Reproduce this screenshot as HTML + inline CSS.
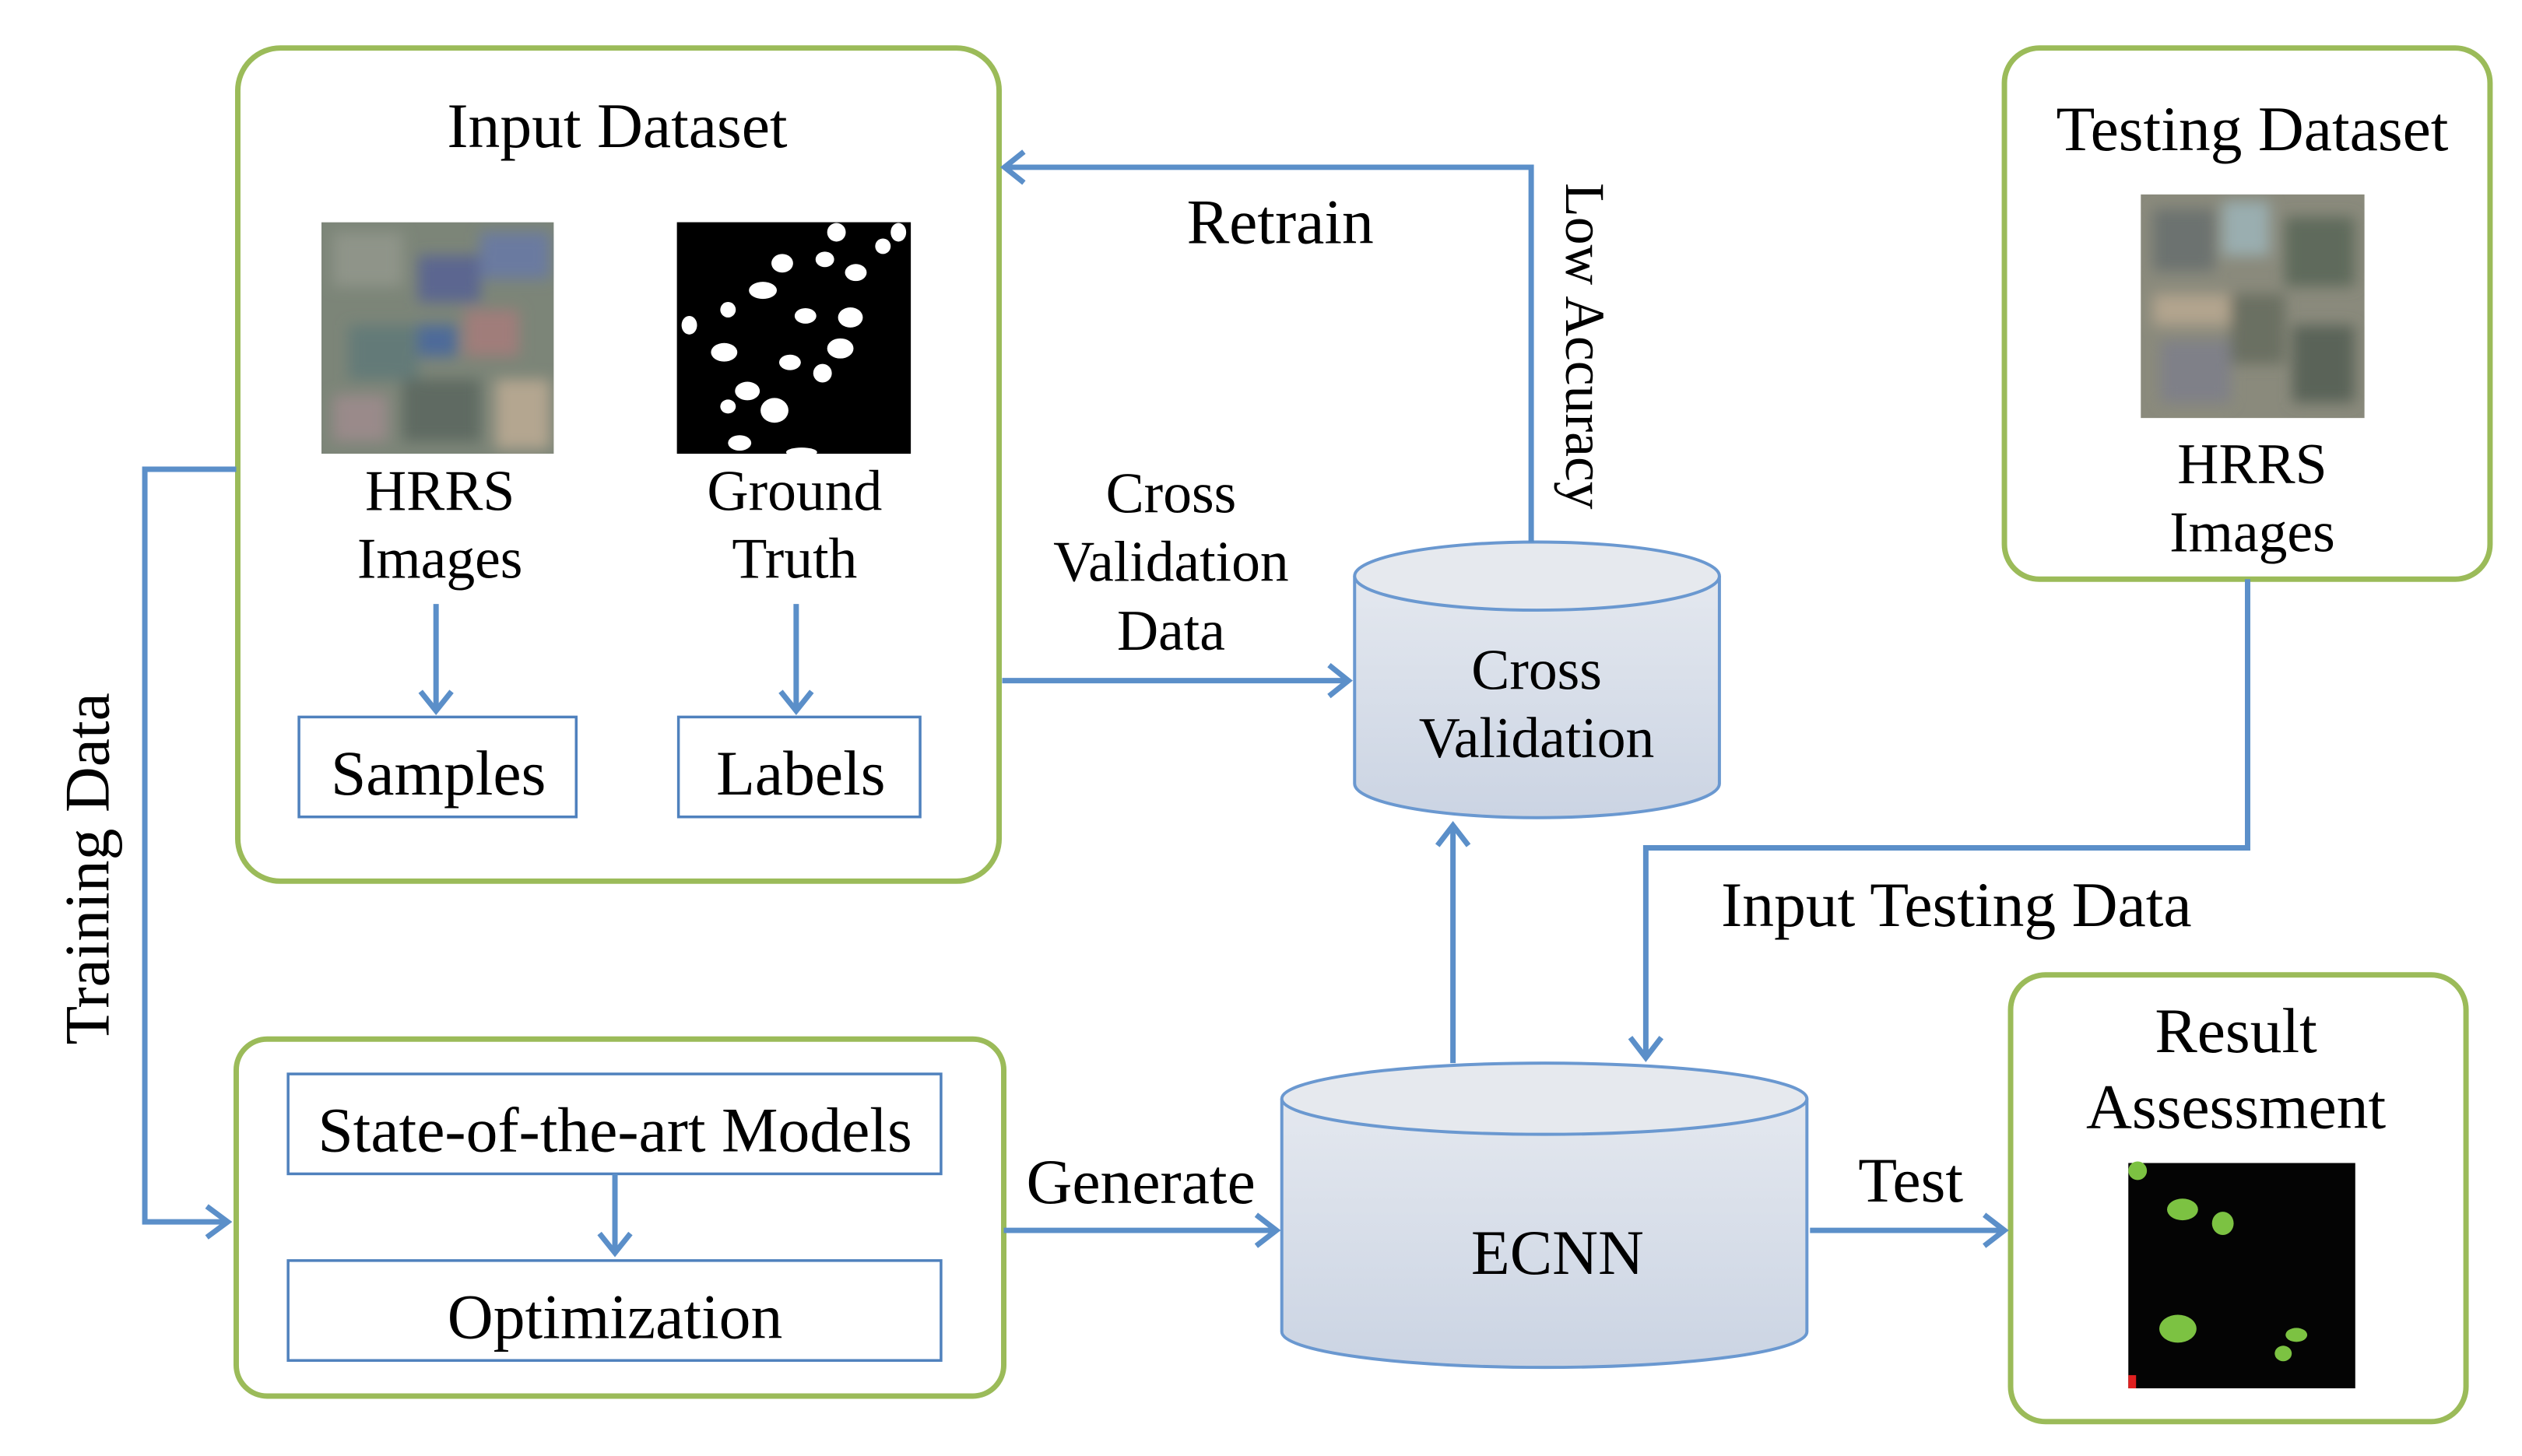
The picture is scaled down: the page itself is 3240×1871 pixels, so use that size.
<!DOCTYPE html>
<html><head><meta charset="utf-8"><style>
html,body{margin:0;padding:0;background:#fff}
svg{display:block}
text{font-family:"Liberation Serif",serif;fill:#000}
</style></head><body>
<svg width="3240" height="1871" viewBox="0 0 3240 1871" xmlns="http://www.w3.org/2000/svg">
<defs>
<linearGradient id="cyl" x1="0" y1="0" x2="0" y2="1">
<stop offset="0" stop-color="#e4e8ef"/><stop offset="1" stop-color="#cbd4e3"/></linearGradient>
<filter id="bl"><feGaussianBlur stdDeviation="9"/></filter>
<clipPath id="c1"><rect x="415" y="287" width="300" height="299"/></clipPath>
<clipPath id="c2"><rect x="2764" y="251" width="289" height="289"/></clipPath>
</defs>
<g transform="scale(0.995)">
<g fill="none" stroke="#9bbb59" stroke-width="7">
<rect x="307" y="62" width="983" height="1076" rx="55"/>
<rect x="305" y="1342" width="991" height="461" rx="40"/>
<rect x="2588" y="62" width="627" height="686" rx="45"/>
<rect x="2596" y="1259" width="588" height="577" rx="45"/>
</g>
<g fill="none" stroke="#4f81bd" stroke-width="3.5">
<rect x="386" y="926" width="358" height="129"/>
<rect x="876" y="926" width="312" height="129"/>
<rect x="372" y="1387" width="843" height="129"/>
<rect x="372" y="1628" width="843" height="129"/>
</g>
<g clip-path="url(#c1)"><rect x="415" y="287" width="300" height="299" fill="#7c8578"/>
<g filter="url(#bl)">
<rect x="430" y="300" width="90" height="70" fill="#8f9489"/><rect x="540" y="330" width="80" height="60" fill="#5b6690"/>
<rect x="600" y="400" width="70" height="60" fill="#a07d7a"/><rect x="450" y="420" width="90" height="70" fill="#647a78"/>
<rect x="620" y="300" width="90" height="60" fill="#6a7aa0"/><rect x="520" y="490" width="100" height="80" fill="#5e6a62"/>
<rect x="430" y="510" width="70" height="60" fill="#9a8a8a"/><rect x="640" y="490" width="70" height="90" fill="#b4a690"/>
<rect x="540" y="420" width="50" height="40" fill="#4d6a9a"/></g></g>
<rect x="874" y="287" width="302" height="299" fill="#000"/>
<g fill="#fff">
<ellipse cx="1010" cy="340" rx="14" ry="12"/><ellipse cx="1065" cy="335" rx="12" ry="10"/><ellipse cx="1105" cy="352" rx="14" ry="11"/>
<ellipse cx="1140" cy="318" rx="10" ry="10"/><ellipse cx="1080" cy="300" rx="12" ry="12"/><ellipse cx="985" cy="375" rx="18" ry="11"/>
<ellipse cx="1040" cy="408" rx="14" ry="10"/><ellipse cx="1098" cy="410" rx="16" ry="13"/><ellipse cx="940" cy="400" rx="10" ry="10"/>
<ellipse cx="890" cy="420" rx="10" ry="12"/><ellipse cx="935" cy="455" rx="17" ry="12"/><ellipse cx="1020" cy="468" rx="14" ry="10"/>
<ellipse cx="1085" cy="450" rx="17" ry="13"/><ellipse cx="1062" cy="482" rx="12" ry="12"/><ellipse cx="965" cy="505" rx="16" ry="12"/>
<ellipse cx="1000" cy="530" rx="18" ry="16"/><ellipse cx="940" cy="525" rx="10" ry="9"/><ellipse cx="955" cy="572" rx="15" ry="10"/>
<ellipse cx="1160" cy="300" rx="10" ry="12"/><ellipse cx="1035" cy="584" rx="20" ry="6"/></g>
<g clip-path="url(#c2)"><rect x="2764" y="251" width="289" height="289" fill="#8a8a7c"/>
<g filter="url(#bl)">
<rect x="2780" y="270" width="80" height="80" fill="#6c7270"/><rect x="2870" y="260" width="60" height="70" fill="#9aaeb0"/>
<rect x="2950" y="280" width="90" height="90" fill="#5f6a5c"/><rect x="2780" y="380" width="100" height="40" fill="#b2a48e"/>
<rect x="2880" y="380" width="70" height="90" fill="#6b6f62"/><rect x="2790" y="440" width="90" height="80" fill="#7f8088"/>
<rect x="2960" y="420" width="80" height="100" fill="#5a6458"/></g></g>
<rect x="2748" y="1502" width="293" height="291" fill="#040404"/>
<g fill="#7cc242">
<ellipse cx="2760" cy="1512" rx="12" ry="12"/><ellipse cx="2818" cy="1562" rx="20" ry="14"/><ellipse cx="2870" cy="1580" rx="14" ry="15"/>
<ellipse cx="2812" cy="1716" rx="24" ry="18"/><ellipse cx="2965" cy="1724" rx="14" ry="9"/><ellipse cx="2948" cy="1748" rx="11" ry="10"/></g>
<rect x="2748" y="1776" width="10" height="17" fill="#e02020"/>
<g stroke="#6a98d0" stroke-width="4">
<path d="M1749 744 V1012 A235.5 44 0 0 0 2220 1012 V744" fill="url(#cyl)"/>
<ellipse cx="1984.5" cy="744" rx="235.5" ry="44" fill="#e6e9ee"/>
<path d="M1655 1419 V1720 A339 46 0 0 0 2333 1720 V1419" fill="url(#cyl)"/>
<ellipse cx="1994" cy="1419" rx="339" ry="46" fill="#e6e9ee"/>
</g>
<g fill="none" stroke="#5b8fc9" stroke-width="7">
<path d="M563 780 V915"/><path d="M1028 780 V915"/><path d="M794 1516 V1615"/>
<path d="M305 606 H187 V1578 H292"/>
<path d="M1977 700 V216 H1302"/>
<path d="M1294 879 H1738"/>
<path d="M1876 1373 V1070"/>
<path d="M2902 748 V1095 H2125 V1362"/>
<path d="M1296 1589 H1644"/>
<path d="M2337 1589 H2585"/>
</g>
<g fill="none" stroke="#5b8fc9" stroke-width="7" stroke-linejoin="miter">
<path d="M543 893 L563 918 L583 893"/><path d="M1008 893 L1028 918 L1048 893"/><path d="M774 1593 L794 1618 L814 1593"/>
<path d="M267 1558 L294 1578 L267 1598"/>
<path d="M1322 196 L1297 216 L1322 236"/>
<path d="M1716 859 L1741 879 L1716 899"/>
<path d="M1856 1092 L1876 1066 L1896 1092"/>
<path d="M2105 1340 L2125 1366 L2145 1340"/>
<path d="M1622 1569 L1648 1589 L1622 1609"/>
<path d="M2562 1569 L2588 1589 L2562 1609"/>
</g>
<g font-size="82" text-anchor="middle">
<text x="797" y="190">Input Dataset</text>
<text x="568" y="659" font-size="74">HRRS</text>
<text x="568" y="746" font-size="74">Images</text>
<text x="1026" y="659" font-size="74">Ground</text>
<text x="1026" y="746" font-size="74">Truth</text>
<text x="566" y="1026">Samples</text>
<text x="1034" y="1026">Labels</text>
<text x="794" y="1487">State-of-the-art Models</text>
<text x="794" y="1728">Optimization</text>
<text x="1653" y="314">Retrain</text>
<text x="1512" y="662" font-size="74">Cross</text>
<text x="1512" y="750" font-size="74">Validation</text>
<text x="1512" y="839" font-size="74">Data</text>
<text x="1984" y="890" font-size="74">Cross</text>
<text x="1984" y="978" font-size="74">Validation</text>
<text x="2011" y="1645">ECNN</text>
<text x="2908" y="194">Testing Dataset</text>
<text x="2908" y="624" font-size="74">HRRS</text>
<text x="2908" y="712" font-size="74">Images</text>
<text x="2526" y="1196">Input Testing Data</text>
<text x="2887" y="1359">Result</text>
<text x="2887" y="1457">Assessment</text>
<text x="2467" y="1552">Test</text>
<text x="1473" y="1554">Generate</text>
<text x="0" y="0" transform="translate(140,1122) rotate(-90)">Training Data</text>
<text x="0" y="0" font-size="72" transform="translate(2022,447) rotate(90)">Low Accuracy</text>
</g>
</g>
</svg>
</body></html>
